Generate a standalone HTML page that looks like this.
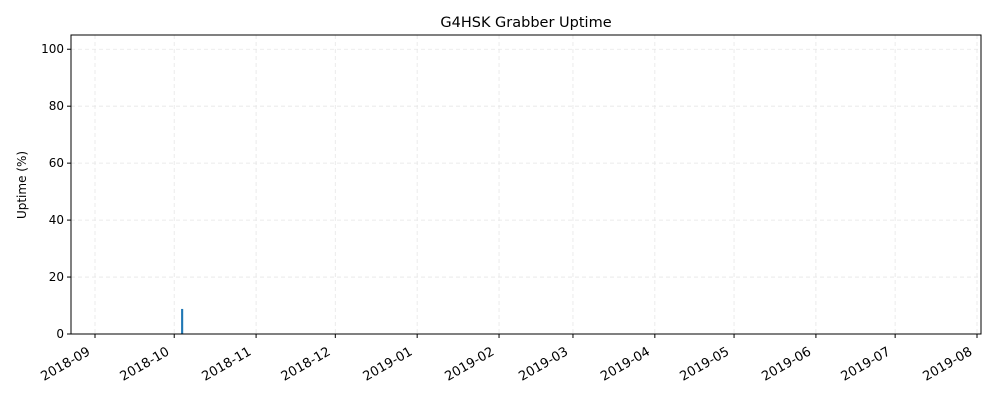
<!DOCTYPE html>
<html><head><meta charset="utf-8"><style>
body{margin:0;background:#fff;font-family:"Liberation Sans","DejaVu Sans",sans-serif}
svg text{font-family:"DejaVu Sans","Liberation Sans",sans-serif;fill:#000}
</style></head><body>
<svg id="chart" width="1000" height="400" xmlns="http://www.w3.org/2000/svg">
<text x="526" y="27" font-size="14.5" text-anchor="middle">G4HSK Grabber Uptime</text>
<text transform="translate(26,185) rotate(-90)" font-size="12" text-anchor="middle">Uptime (%)</text>
<g id="grid"></g>
<g id="bars"></g>
<g id="axes"></g>
</svg>
<script>
const dates = ["2018-10-04"];
const values = [8.8];
const xTickLabels = ["2018-09","2018-10","2018-11","2018-12","2019-01","2019-02","2019-03","2019-04","2019-05","2019-06","2019-07","2019-08"];
const yTickLabels = [0,20,40,60,80,100];

const NS="http://www.w3.org/2000/svg";
const L=71,R=981,T=35,B=334;
const d0=Date.UTC(2018,8,1), d1=Date.UTC(2019,7,1);
function parse(s){const p=s.split("-").map(Number);return Date.UTC(p[0],p[1]-1,p[2]||1);}
function x(t){return 95+(t-d0)/(d1-d0)*(977-95);}
function y(v){return B-(v/105)*(B-T);}
function mk(tag,attrs,parent){const e=document.createElementNS(NS,tag);for(const k in attrs)e.setAttribute(k,attrs[k]);parent.appendChild(e);return e;}
const grid=document.getElementById("grid"),bars=document.getElementById("bars"),axes=document.getElementById("axes");
const dayPx=x(d0+86400000)-x(d0);
xTickLabels.forEach(s=>{
  const px=x(parse(s));
  const g=mk("line",{x1:px,x2:px,y1:T,y2:B,stroke:"#e6e6e6","stroke-dasharray":"4,3","stroke-width":0.8},grid);
  
  
  const tk=mk("line",{x1:px,x2:px,y1:B,y2:B+4,stroke:"#000"},axes);
  
  
  const ax=px-4, ay=B+20;
  const t=mk("text",{x:ax,y:ay,"font-size":13,"text-anchor":"end",transform:`rotate(-30 ${ax} ${ay})`},axes);
  t.textContent=s;
  
  
});
yTickLabels.forEach(v=>{
  const py=y(v);
  const g=mk("line",{x1:L,x2:R,y1:py,y2:py,stroke:"#e6e6e6","stroke-dasharray":"4,3","stroke-width":0.8},grid);
  
  
  const tk=mk("line",{x1:L-4,x2:L,y1:py,y2:py,stroke:"#000"},axes);
  
  
  const t=mk("text",{x:L-7,y:py+4,"font-size":12,"text-anchor":"end"},axes);
  t.textContent=v;
  
  
});
dates.forEach((d,i)=>{
  const cx=x(parse(d)), w=Math.max(2,dayPx*0.8);
  const r=mk("rect",{x:cx-w/2,y:y(values[i]),width:w,height:B-y(values[i]),fill:"#1f77b4"},bars);
  
  
});
const fr=mk("rect",{x:L,y:T,width:R-L,height:B-T,fill:"none",stroke:"#000","stroke-width":1},axes);


</script>
</body></html>
